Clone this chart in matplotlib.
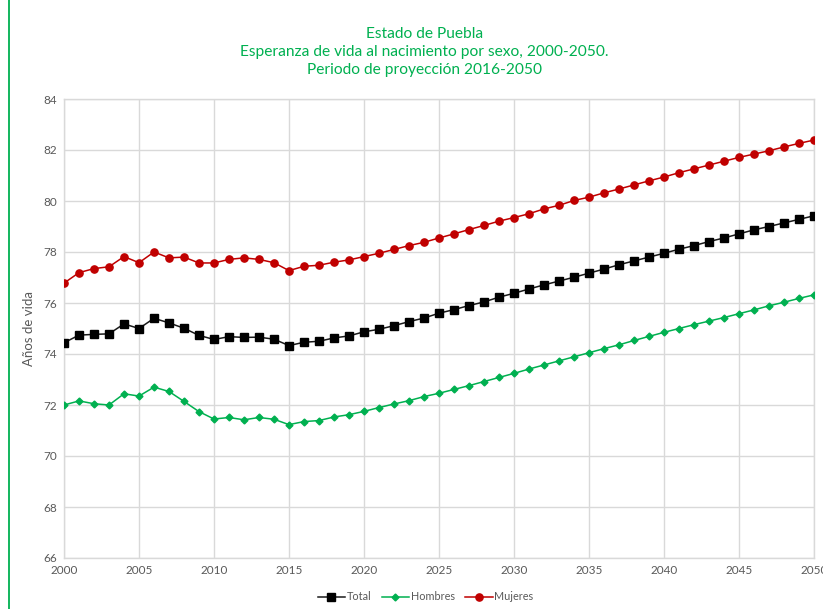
import matplotlib

matplotlib.use("Agg")
import matplotlib.pyplot as plt
from matplotlib.patches import Rectangle

years = list(range(2000, 2051))

total = [
    74.44, 74.74, 74.77, 74.79, 75.18, 75.00, 75.40, 75.22, 75.01, 74.73,
    74.57, 74.68, 74.65, 74.66, 74.58, 74.33, 74.46, 74.50, 74.63, 74.71,
    74.87, 74.97, 75.11, 75.27, 75.41, 75.60, 75.74, 75.90, 76.04, 76.23,
    76.38, 76.55, 76.71, 76.86, 77.01, 77.17, 77.33, 77.50, 77.65, 77.80,
    77.95, 78.11, 78.25, 78.41, 78.55, 78.71, 78.87, 79.00, 79.14, 79.28, 79.42,
]
hombres = [
    72.00, 72.16, 72.05, 72.00, 72.44, 72.35, 72.70, 72.53, 72.14, 71.74,
    71.45, 71.51, 71.42, 71.51, 71.44, 71.23, 71.35, 71.39, 71.53, 71.62,
    71.75, 71.90, 72.04, 72.17, 72.33, 72.46, 72.61, 72.76, 72.92, 73.08,
    73.24, 73.41, 73.57, 73.73, 73.89, 74.05, 74.21, 74.36, 74.53, 74.69,
    74.85, 75.00, 75.15, 75.29, 75.43, 75.58, 75.73, 75.89, 76.03, 76.18, 76.32,
]
mujeres = [
    76.78, 77.19, 77.35, 77.42, 77.82, 77.58, 78.00, 77.77, 77.80, 77.57,
    77.57, 77.71, 77.77, 77.71, 77.58, 77.27, 77.44, 77.48, 77.60, 77.69,
    77.82, 77.95, 78.10, 78.25, 78.38, 78.55, 78.71, 78.88, 79.04, 79.21,
    79.35, 79.50, 79.69, 79.83, 80.02, 80.15, 80.32, 80.47, 80.63, 80.79,
    80.94, 81.11, 81.26, 81.41, 81.56, 81.71, 81.84, 81.97, 82.12, 82.26, 82.39,
]

x_ticks = list(range(2000, 2051, 5))
y_ticks = list(range(66, 85, 2))

TITLE = ("Estado de Puebla\n"
         "Esperanza de vida al nacimiento por sexo, 2000-2050.\n"
         "Periodo de proyección 2016-2050")

GREEN = "#00b050"
RED = "#c00000"
GRID = "#d9d9d9"
TXT = "#595959"

plt.rcParams["font.family"] = ["Lato", "DejaVu Sans"]

fig = plt.figure(figsize=(8.23, 6.09), dpi=100)
ax = fig.add_axes([64 / 823, 1 - 558 / 609, (814 - 64) / 823, (558 - 99) / 609])

ax.plot(years, total, color="#1a1a1a", lw=1.1, marker="s", ms=5.5,
        mfc="black", mec="black", label="Total", zorder=3)
ax.plot(years, hombres, color=GREEN, lw=1.1, marker="D", ms=3.5,
        mfc=GREEN, mec=GREEN, label="Hombres", zorder=3)
ax.plot(years, mujeres, color=RED, lw=1.1, marker="o", ms=5.2,
        mfc=RED, mec=RED, label="Mujeres", zorder=3)

ax.set_xlim(2000, 2050)
ax.set_ylim(66, 84)
ax.set_xticks(x_ticks)
ax.set_yticks(y_ticks)
ax.grid(True, color=GRID, lw=1.0)
ax.set_axisbelow(True)
for s in ax.spines.values():
    s.set_color(GRID)
    s.set_linewidth(1.0)
ax.tick_params(length=0, labelsize=8.5, colors=TXT, pad=5)
ax.set_ylabel("Años de vida", fontsize=9.5, color=TXT, labelpad=6)

fig.text(0.516, 1 - 52 / 609, TITLE, ha="center", va="center", color=GREEN,
         fontsize=11.2, linespacing=1.4)

fig.legend(loc="center", bbox_to_anchor=(0.517, 1 - 597 / 609), ncol=3,
           frameon=False, fontsize=7.8, handlelength=2.5, handletextpad=0.15,
           columnspacing=1.0, labelcolor=TXT)

fig.patches.append(Rectangle((9 / 823, -0.2), 1.2, 1.2 + 1 - 11.5 / 609,
                             transform=fig.transFigure, fill=False,
                             edgecolor=GREEN, lw=1.3))

fig.savefig("out.png", dpi=100, facecolor="white")
plt.close(fig)
